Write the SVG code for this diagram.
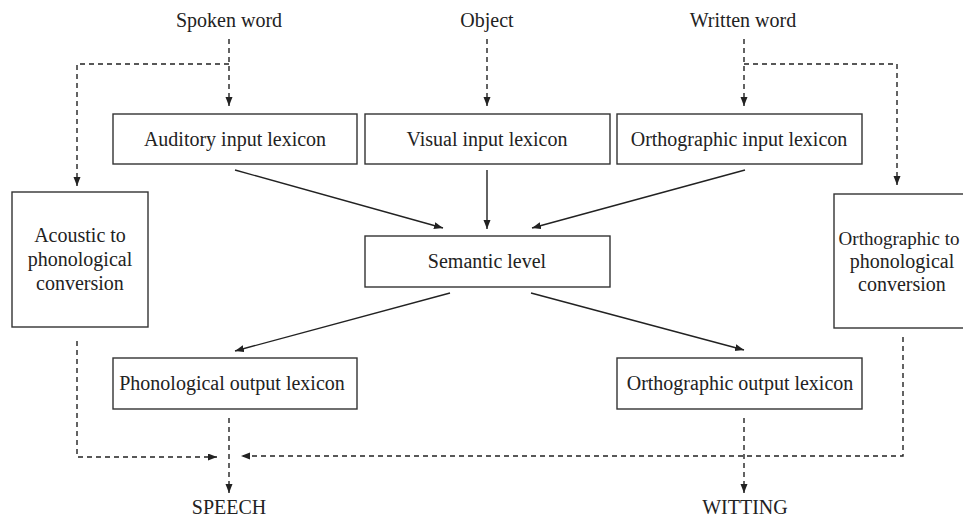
<svg xmlns="http://www.w3.org/2000/svg" width="963" height="517" viewBox="0 0 963 517">
<style>
.box{fill:#fff;stroke:#333;stroke-width:1.4}
.t{font-family:"Liberation Serif","Times New Roman",serif;font-size:20px;fill:#222;text-anchor:middle}
.solid{fill:none;stroke:#222;stroke-width:1.4}
.dash{fill:none;stroke:#222;stroke-width:1.4;stroke-dasharray:5 4}
</style>
<defs>
<marker id="ah" markerUnits="userSpaceOnUse" markerWidth="10" markerHeight="8" refX="9" refY="3.5" orient="auto">
<path d="M0,0 L9,3.5 L0,7 z" fill="#222"/>
</marker>
</defs>
<rect width="963" height="517" fill="#fff"/>
<g id="labels">
<text class="t" x="229" y="27">Spoken word</text>
<text class="t" x="487" y="27">Object</text>
<text class="t" x="743" y="27">Written word</text>
<text class="t" x="229" y="514">SPEECH</text>
<text class="t" x="745" y="514">WITTING</text>
</g>
<g id="connectors">
<path class="dash" d="M229,39 V106" marker-end="url(#ah)"/>
<path class="dash" d="M229,64 H77 V186" marker-end="url(#ah)"/>
<path class="dash" d="M487,39 V106" marker-end="url(#ah)"/>
<path class="dash" d="M744,39 V106" marker-end="url(#ah)"/>
<path class="dash" d="M744,64 H897 V185" marker-end="url(#ah)"/>
<path class="solid" d="M235,170 L443,228" marker-end="url(#ah)"/>
<path class="solid" d="M487,170 V229" marker-end="url(#ah)"/>
<path class="solid" d="M745,170 L532,228" marker-end="url(#ah)"/>
<path class="solid" d="M450,293 L235,351" marker-end="url(#ah)"/>
<path class="solid" d="M531,293 L744,350" marker-end="url(#ah)"/>
<path class="dash" d="M229,418 V493" marker-end="url(#ah)"/>
<path class="dash" d="M744,418 V493" marker-end="url(#ah)"/>
<path class="dash" d="M77,341 V457 H217" marker-end="url(#ah)"/>
<path class="dash" d="M903,337 V456 H241" marker-end="url(#ah)"/>
</g>
<g id="auditory"><rect class="box" x="113" y="114" width="244" height="50"/><text class="t" x="235" y="146">Auditory input lexicon</text></g>
<g id="visual"><rect class="box" x="365" y="114" width="245" height="50"/><text class="t" x="487" y="146">Visual input lexicon</text></g>
<g id="orthin"><rect class="box" x="617" y="114" width="245" height="50"/><text class="t" x="739" y="146">Orthographic input lexicon</text></g>
<g id="acoustic"><rect class="box" x="12" y="192" width="136" height="135"/><text class="t" x="80" y="242">Acoustic to</text><text class="t" x="80" y="266">phonological</text><text class="t" x="80" y="290">conversion</text></g>
<g id="semantic"><rect class="box" x="365" y="236" width="245" height="51"/><text class="t" x="487" y="268">Semantic level</text></g>
<g id="orthphon"><rect class="box" x="834" y="194" width="136" height="134"/><text class="t" x="899" y="245" style="font-size:19px">Orthographic to</text><text class="t" x="902" y="268">phonological</text><text class="t" x="902" y="291">conversion</text></g>
<g id="phonout"><rect class="box" x="113" y="358" width="244" height="51"/><text class="t" x="232" y="390">Phonological output lexicon</text></g>
<g id="orthout"><rect class="box" x="617" y="358" width="245" height="51"/><text class="t" x="740" y="390">Orthographic output lexicon</text></g>
</svg>
